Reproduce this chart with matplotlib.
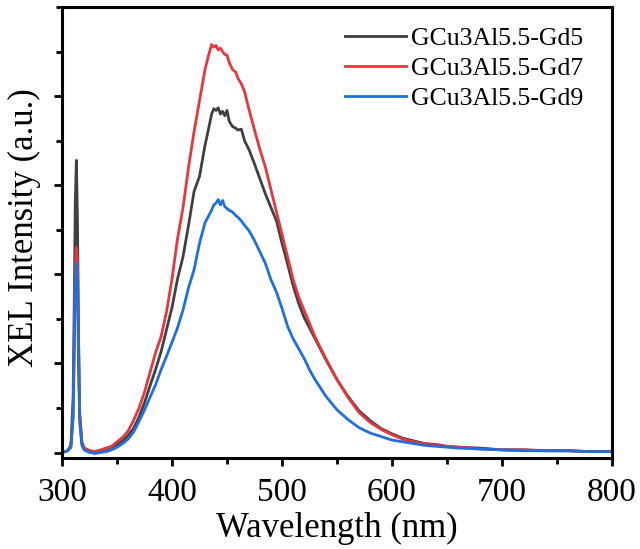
import matplotlib
matplotlib.use("Agg")
import matplotlib.pyplot as plt
from matplotlib.ticker import MultipleLocator, NullFormatter

wavelength = [300, 305, 308, 310, 311, 312, 313, 314, 315, 316, 318, 320, 325, 330, 335, 340,
              345, 350, 355, 360, 365, 370, 375, 380, 385, 390, 395, 400, 405, 410, 415, 420,
              425, 430, 433, 436, 438, 440, 442, 444, 446, 448, 450, 452, 455, 458, 460, 463,
              466, 470, 475, 480, 485, 490, 495, 500, 505, 510, 515, 520, 525, 530, 540, 550,
              560, 570, 580, 590, 600, 610, 620, 630, 640, 650, 660, 680, 700, 720, 740, 760,
              780, 800]

gd5 = [0.0, 0.02, 0.08, 0.6, 1.6, 2.8, 3.28, 2.6, 1.3, 0.45, 0.12, 0.05, 0.02, 0.01, 0.02, 0.04,
       0.06, 0.09, 0.13, 0.19, 0.27, 0.40, 0.56, 0.75, 0.93, 1.13, 1.38, 1.63, 1.95, 2.20, 2.55, 2.93,
       3.10, 3.45, 3.62, 3.80, 3.86, 3.84, 3.87, 3.80, 3.83, 3.78, 3.84, 3.72, 3.66, 3.64, 3.62, 3.63,
       3.50, 3.40, 3.24, 3.07, 2.90, 2.75, 2.60, 2.35, 2.12, 1.88, 1.68, 1.52, 1.40, 1.28, 1.04, 0.82,
       0.63, 0.47, 0.36, 0.27, 0.21, 0.16, 0.13, 0.10, 0.09, 0.07, 0.06, 0.05, 0.03, 0.03, 0.02, 0.02,
       0.01, 0.01]

gd7 = [0.0, 0.02, 0.06, 0.4, 1.2, 2.0, 2.30, 2.1, 1.2, 0.4, 0.1, 0.05, 0.02, 0.01, 0.03, 0.05,
       0.07, 0.12, 0.17, 0.24, 0.36, 0.50, 0.68, 0.90, 1.12, 1.30, 1.58, 1.95, 2.40, 2.75, 3.20, 3.60,
       3.95, 4.30, 4.45, 4.58, 4.55, 4.57, 4.52, 4.54, 4.50, 4.47, 4.46, 4.38, 4.30, 4.27, 4.20, 4.14,
       4.05, 3.85, 3.62, 3.40, 3.20, 2.95, 2.70, 2.45, 2.20, 1.95, 1.75, 1.60, 1.45, 1.30, 1.05, 0.82,
       0.62, 0.45, 0.34, 0.26, 0.20, 0.15, 0.12, 0.10, 0.08, 0.07, 0.06, 0.04, 0.03, 0.03, 0.02, 0.02,
       0.01, 0.01]

gd9 = [0.0, 0.02, 0.06, 0.4, 1.1, 1.9, 2.13, 1.9, 1.0, 0.35, 0.08, 0.03, 0.0, -0.01, 0.0, 0.01,
       0.03, 0.06, 0.10, 0.15, 0.23, 0.35, 0.48, 0.62, 0.76, 0.93, 1.08, 1.24, 1.40, 1.60, 1.85, 2.05,
       2.35, 2.58, 2.65, 2.72, 2.78, 2.80, 2.84, 2.78, 2.83, 2.76, 2.74, 2.72, 2.70, 2.66, 2.64, 2.60,
       2.55, 2.49, 2.38, 2.25, 2.12, 1.94, 1.80, 1.62, 1.42, 1.28, 1.17, 1.06, 0.93, 0.82, 0.63, 0.48,
       0.37, 0.28, 0.22, 0.18, 0.14, 0.12, 0.10, 0.08, 0.07, 0.06, 0.05, 0.04, 0.03, 0.02, 0.02, 0.02,
       0.01, 0.01]

labels = ["GCu3Al5.5-Gd5", "GCu3Al5.5-Gd7", "GCu3Al5.5-Gd9"]
colors = ["#404040", "#e8363c", "#1f6fdc"]

plt.rcParams['font.family'] = ['Liberation Serif', 'DejaVu Serif']

fig = plt.figure(figsize=(6.4, 5.49), dpi=100)
ax = fig.add_axes([0.097, 0.166, 0.859, 0.821])

for y, lab, c in zip([gd5, gd7, gd9], labels, colors):
    ax.plot(wavelength, y, color=c, lw=2.0, label=lab)

ax.set_xlim(300, 800)
ax.set_ylim(-0.06, 5.0)
ax.xaxis.set_major_locator(MultipleLocator(100))
ax.xaxis.set_minor_locator(MultipleLocator(50))
ax.yaxis.set_minor_locator(MultipleLocator(0.5))
ax.set_yticks([0, 1, 2, 3, 4])
ax.yaxis.set_major_formatter(NullFormatter())

for s in ax.spines.values():
    s.set_linewidth(2.2)
ax.tick_params(axis='both', which='major', direction='out', length=6, width=2, labelsize=24, pad=8)
ax.tick_params(axis='both', which='minor', direction='out', length=4, width=2)
ax.tick_params(axis='y', which='both', labelleft=False)

ax.set_xlabel("Wavelength (nm)", fontsize=25, labelpad=3)
ax.set_ylabel("XEL Intensity (a.u.)", fontsize=25)
ax.yaxis.set_label_coords(-0.038, 0.51)

leg = ax.legend(loc='upper right', frameon=False, fontsize=18.5, handlelength=2.35,
                handletextpad=0.2, labelspacing=0.26, bbox_to_anchor=(0.948, 0.955),
                borderpad=0, borderaxespad=0)

fig.savefig("out.png", dpi=100)
